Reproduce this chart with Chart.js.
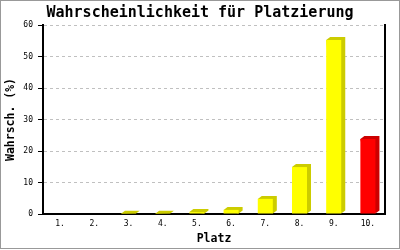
<!DOCTYPE html>
<html>
<head>
<meta charset="utf-8">
<script src="https://cdn.jsdelivr.net/npm/chart.js@4/dist/chart.umd.min.js"></script>
<style>
  html, body { margin: 0; padding: 0; background: #fff; }
  #wrap { width: 400px; height: 250px; }
</style>
</head>
<body>
<div id="wrap"><canvas id="chart" width="400" height="250"></canvas></div>
<script>
// Platzierung -> Wahrscheinlichkeit in %
const places = ['1.', '2.', '3.', '4.', '5.', '6.', '7.', '8.', '9.', '10.'];
const chances = [0, 0, 0.1, 0.1, 0.6, 1.3, 4.8, 14.9, 55.2, 23.8];
const frontColors = ['#ffff00', '#ffff00', '#ffff00', '#ffff00', '#ffff00', '#ffff00', '#ffff00', '#ffff00', '#ffff00', '#ff0000'];
const depthColors = ['#cccc00', '#cccc00', '#cccc00', '#cccc00', '#cccc00', '#cccc00', '#cccc00', '#cccc00', '#cccc00', '#cc0000'];
const yMin = 0;
const yMax = 60;
const yStep = 10;

const mono = '"DejaVu Sans Mono", "Liberation Mono", monospace';

// white page + grey frame
const frame = {
  id: 'frame',
  beforeDraw(chart) {
    const ctx = chart.ctx;
    ctx.save();
    ctx.fillStyle = '#fff';
    ctx.fillRect(0, 0, chart.width, chart.height);
    ctx.restore();
  },
  afterDraw(chart) {
    const ctx = chart.ctx;
    ctx.save();
    ctx.strokeStyle = '#999';
    ctx.lineWidth = 1;
    ctx.strokeRect(0.5, 0.5, 399, 248);
    ctx.restore();
  }
};

// top + side face behind every bar
const depth = {
  id: 'depth',
  beforeDatasetsDraw(chart) {
    const ctx = chart.ctx;
    const dx = 4;
    const dy = 3;
    chart.getDatasetMeta(0).data.forEach((bar, i) => {
      if (!chances[i]) return;
      const { x, y, base, width } = bar.getProps(['x', 'y', 'base', 'width'], true);
      const left = x - width / 2;
      const right = x + width / 2;
      ctx.save();
      ctx.fillStyle = depthColors[i];
      ctx.beginPath();
      ctx.moveTo(left, y);
      ctx.lineTo(left + dx, y - dy);
      ctx.lineTo(right + dx, y - dy);
      ctx.lineTo(right + dx, base - dy);
      ctx.lineTo(right, base);
      ctx.closePath();
      ctx.fill();
      ctx.restore();
    });
  }
};

new Chart(document.getElementById('chart').getContext('2d'), {
  type: 'bar',
  data: {
    labels: places,
    datasets: [
      {
        data: chances,
        backgroundColor: frontColors,
        borderWidth: 0,
        categoryPercentage: 1,
        barPercentage: 0.44
      }
    ]
  },
  options: {
    responsive: false,
    animation: false,
    layout: { padding: { left: 1, right: 1, top: 0, bottom: 0 } },
    plugins: {
      legend: { display: false },
      tooltip: { enabled: false },
      title: {
        display: true,
        text: 'Wahrscheinlichkeit für Platzierung',
        color: '#000',
        font: { family: mono, size: 15, weight: 'bold' },
        padding: { top: 4, bottom: 3 }
      }
    },
    scales: {
      x: {
        grid: { display: false, drawTicks: false },
        border: { display: true, color: '#000', width: 2 },
        ticks: {
          color: '#000',
          font: { family: mono, size: 8 },
          padding: 5,
          autoSkip: false,
          maxRotation: 0
        },
        title: {
          display: true,
          text: 'Platz',
          color: '#000',
          font: { family: mono, size: 11.5, weight: 'bold' },
          padding: { top: 0, bottom: 4 }
        },
        afterFit: scale => { scale.height = 36; }
      },
      y: {
        min: yMin,
        max: yMax,
        grid: {
          color: '#c0c0c0',
          tickColor: '#000',
          tickLength: 5,
          tickWidth: 1,
          tickBorderDash: [0, 0]
        },
        border: { display: true, color: '#000', width: 2, dash: [3, 3] },
        ticks: {
          stepSize: yStep,
          color: '#000',
          font: { family: mono, size: 8 },
          padding: 5
        },
        title: {
          display: true,
          text: 'Wahrsch. (%)',
          color: '#000',
          font: { family: mono, size: 11.5, weight: 'bold' },
          padding: { top: 3, bottom: 0 }
        },
        afterFit: scale => { scale.width = 42; }
      },
      // plain right edge of the plot
      yRight: {
        type: 'linear',
        position: 'right',
        display: true,
        min: yMin,
        max: yMax,
        grid: { drawOnChartArea: false, drawTicks: false },
        border: { display: true, color: '#000', width: 2 },
        ticks: { display: false },
        afterFit: scale => { scale.width = 14; }
      }
    }
  },
  plugins: [frame, depth]
});
</script>
</body>
</html>
